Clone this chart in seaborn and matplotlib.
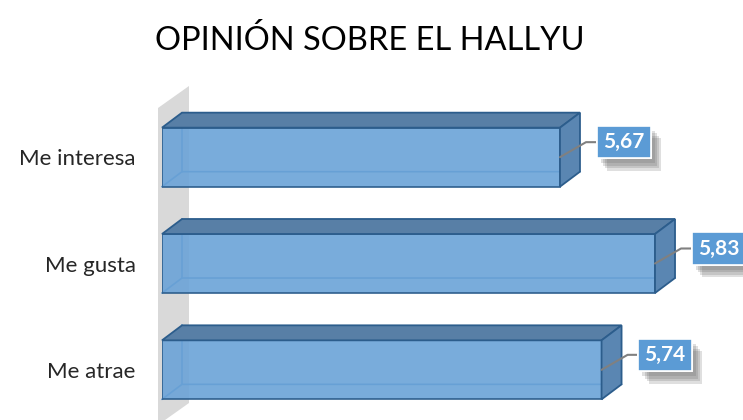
import pandas as pd
import numpy as np
from matplotlib import pyplot as plt
from matplotlib.patches import Polygon
from matplotlib.transforms import IdentityTransform
import matplotlib.patheffects as pe
import seaborn as sns

# data
categories = ['Me interesa', 'Me gusta', 'Me atrae']
values = [5.67, 5.83, 5.74]
value_labels = ['5,67', '5,83', '5,74']
axis_min, axis_max = 5.0, 6.0

df = pd.DataFrame({'categoria': categories, 'valor': values})

sns.set_style('white')
plt.rcParams['font.family'] = ['Lato', 'DejaVu Sans']

front_col = '#6BA3D7'
top_col = '#587FA6'
side_col = '#5A86B2'
edge_col = '#2C5D8C'
inner_col = '#4C88C4'
box_col = '#5B9BD5'

fig = plt.figure(figsize=(7.43, 4.2), dpi=100)
ax = fig.add_axes([162 / 743, -3 / 420, 594 / 743, 319 / 420])

sns.barplot(data=df, x='valor', y='categoria', orient='h', width=0.555,
            color=front_col, ax=ax, zorder=2)
ax.set_xlim(axis_min, axis_max)
ax.set_ylim(2.5, -0.5)
ax.set_xlabel('')
ax.set_ylabel('')
ax.set_xticks([])
ax.tick_params(axis='y', length=0, pad=19, labelsize=16)
sns.despine(ax=ax, left=True, bottom=True)
ax.patch.set_visible(False)

ident = IdentityTransform()

# gray back wall (3d look), anchored on the axes left edge
wx = ax.bbox.x0
wall = Polygon([(wx - 4, 312), (wx + 27, 334), (wx + 27, 17), (wx - 4, -5)],
               closed=True, facecolor='#D9D9D9', edgecolor='none',
               transform=ident, zorder=0)
fig.add_artist(wall)

dx, dy = 20, 15  # depth offset in pixels

for bar, lab in zip(ax.patches, value_labels):
    # bars start at the axis minimum, as in the original chart
    right = bar.get_x() + bar.get_width()
    bar.set_x(axis_min)
    bar.set_width(right - axis_min)
    by, bh = bar.get_y(), bar.get_height()
    (x0, y0) = ax.transData.transform((axis_min, by + bh))  # bottom (display)
    (x1, y1) = ax.transData.transform((right, by))  # top (display)

    bar.set_facecolor(front_col)
    bar.set_alpha(0.9)
    bar.set_edgecolor(edge_col)
    bar.set_linewidth(1.3)

    # hidden edges seen through the front face
    ax.plot([x0, x0 + dx, x1 + dx], [y0, y0 + dy, y0 + dy], color=inner_col,
            lw=1.2, transform=ident, zorder=1, clip_on=False)
    ax.plot([x0 + dx, x0 + dx], [y0 + dy, y1 + dy], color=inner_col,
            lw=1.2, transform=ident, zorder=1, clip_on=False)

    top = Polygon([(x0, y1), (x1, y1), (x1 + dx, y1 + dy), (x0 + dx, y1 + dy)],
                  closed=True, facecolor=top_col, edgecolor=edge_col, lw=1.3,
                  transform=ident, zorder=3, clip_on=False)
    side = Polygon([(x1, y0), (x1 + dx, y0 + dy), (x1 + dx, y1 + dy), (x1, y1)],
                   closed=True, facecolor=side_col, edgecolor=edge_col, lw=1.3,
                   transform=ident, zorder=3, clip_on=False)
    ax.add_patch(top)
    ax.add_patch(side)

    # leader line and value box
    yc = (y0 + y1) / 2
    ax.plot([x1, x1 + 26, x1 + 37], [yc, yc + 15, yc + 15], color='#808080',
            lw=1.5, transform=ident, zorder=4, clip_on=False)
    t = ax.text(x1 + 43, yc + 15, lab, transform=ident, ha='left', va='center',
                color='white', fontsize=15, fontweight='bold', zorder=5,
                bbox=dict(boxstyle='square,pad=0.3', facecolor=box_col,
                          edgecolor='white', linewidth=1.2),
                clip_on=False)
    # soft shadow made of a few stacked offsets
    shadows = [pe.withSimplePatchShadow(offset=(o, -o * 1.2), shadow_rgbFace='#606060',
                                        alpha=0.2)
               for o in (3, 4.5, 6, 7.5)]
    t.get_bbox_patch().set_path_effects(shadows + [pe.Normal()])

fig.text(0.498, (420 - 50) / 420, 'OPINIÓN SOBRE EL HALLYU', ha='center',
         va='baseline', fontsize=23.5, color='black')

plt.savefig('out.png', dpi=100)
